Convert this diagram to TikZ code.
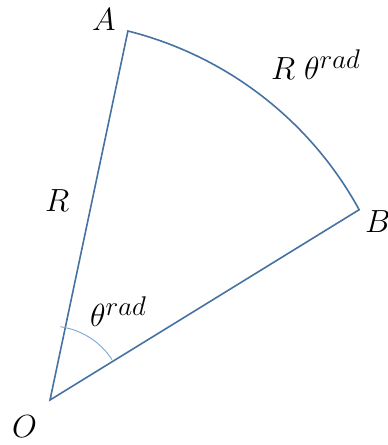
\RequirePackage{fix-cm}
\documentclass[tikz,border=0pt]{standalone}
\usepackage{tikz}
\usepackage{amsmath}
\usetikzlibrary{calc}
\DeclareMathSizes{32}{32}{27}{20}
\definecolor{secBlue}{RGB}{70,114,162}
\definecolor{angBlue}{RGB}{120,168,218}

\begin{document}
\begin{tikzpicture}[x=1pt, y=1pt,
    sector/.style={draw=secBlue, line width=1.6pt},
    anglearc/.style={draw=angBlue, line width=0.9pt},
    lab/.style={anchor=base west, inner sep=0pt, font=\fontsize{32}{38}\selectfont}]
    \useasboundingbox (0,0) rectangle (388,445);
    % points: centre of the outer arc, apex O, ends A and B
    \coordinate (ctr) at (39,60);
    \coordinate (O) at (50,45);
    \coordinate (A) at ($(ctr)+(75.9:365)$);
    \coordinate (B) at ($(ctr)+(28.7:365)$);
    % sector outline
    \draw[sector] (O) -- (A) arc[start angle=75.9, end angle=28.7, radius=365] -- cycle;
    % angle mark at O
    \draw[anglearc] ($(O)+(33:74)$) arc[start angle=33, end angle=82, radius=74];
    % labels
    \node[lab] (labA) at (92,414) {$A$};
    \node[lab] (labB) at (365,212) {$B$};
    \node[lab] (labO) at (12,7) {$O$};
    \node[lab] (labR) at (45,233) {$R$};
    \node[lab] (labArc) at (271,365) {$R\;\theta^{rad}$};
    \node[lab] (labAng) at (90,118) {$\theta^{rad}$};
\end{tikzpicture}
\end{document}
